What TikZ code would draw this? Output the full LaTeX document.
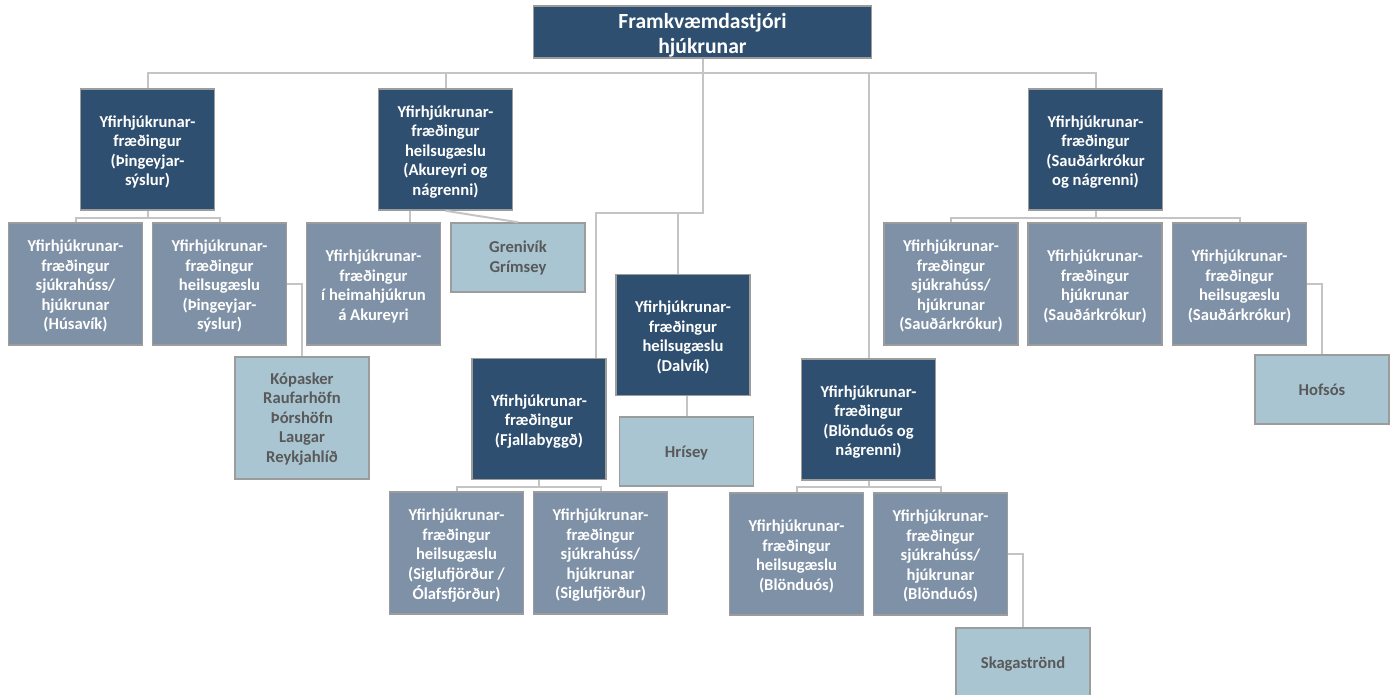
\documentclass[tikz,border=0pt]{standalone}
\usepackage{fontspec}
\setmainfont{Carlito}
\definecolor{navy}{HTML}{2F4F70}
\definecolor{slate}{HTML}{7F91A6}
\definecolor{paleblue}{HTML}{A8C5D1}
\definecolor{bordergray}{HTML}{9C9C9C}
\definecolor{linegray}{HTML}{C4C4C4}
\definecolor{textgray}{HTML}{595959}
\newcommand{\boxtxt}[2][3pt]{\raisebox{-#1}[\height][\depth]{\begin{tabular}{@{}c@{}}#2\end{tabular}}}
\tikzset{
  boxbase/.style={draw=bordergray, line width=1.5pt, inner sep=0pt, align=center,
    font=\bfseries\fontsize{16.6}{19.5}\selectfont, minimum width=134pt, minimum height=121pt},
  darkbox/.style={boxbase, fill=navy, text=white},
  medbox/.style={boxbase, fill=slate, text=white},
  lightbox/.style={boxbase, fill=paleblue, text=textgray, minimum height=69pt},
  conn/.style={draw=linegray, line width=2pt}
}
\begin{document}
\begin{tikzpicture}[x=1pt,y=-1pt]
\useasboundingbox (0,0) rectangle (1395,694);
% nodes
\node[darkbox, minimum width=338pt, minimum height=52pt, font=\bfseries\fontsize{21.6}{25}\selectfont] (top) at (702.5,32) {\boxtxt[3.5pt]{Framkvæmdastjóri\\hjúkrunar}};
\node[darkbox] (thing) at (147.5,149.5) {\boxtxt{Yfirhjúkrunar-\\fræðingur\\(Þingeyjar-\\sýslur)}};
\node[darkbox] (aku) at (445.5,149.5) {\boxtxt{Yfirhjúkrunar-\\fræðingur\\heilsugæslu\\(Akureyri og\\nágrenni)}};
\node[darkbox] (sau) at (1095.5,149.5) {\boxtxt{Yfirhjúkrunar-\\fræðingur\\(Sauðárkrókur\\og nágrenni)}};
\node[medbox, minimum height=122pt] (husa) at (75.5,284) {\boxtxt{Yfirhjúkrunar-\\fræðingur\\sjúkrahúss/\\hjúkrunar\\(Húsavík)}};
\node[medbox, minimum height=122pt] (thheil) at (219.5,284) {\boxtxt{Yfirhjúkrunar-\\fræðingur\\heilsugæslu\\(Þingeyjar-\\sýslur)}};
\node[medbox, minimum height=122pt] (heima) at (373.5,284) {\boxtxt{Yfirhjúkrunar-\\fræðingur\\í heimahjúkrun\\á Akureyri}};
\node[lightbox] (gren) at (518,257.5) {\boxtxt[1pt]{Grenivík\\Grímsey}};
\node[lightbox, minimum height=122pt] (kopa) at (302,418) {\boxtxt[1.5pt]{Kópasker\\Raufarhöfn\\Þórshöfn\\Laugar\\Reykjahlíð}};
\node[darkbox] (fjal) at (539,419) {\boxtxt{Yfirhjúkrunar-\\fræðingur\\(Fjallabyggð)}};
\node[darkbox] (dalv) at (683,335) {\boxtxt{Yfirhjúkrunar-\\fræðingur\\heilsugæslu\\(Dalvík)}};
\node[lightbox] (hris) at (686.5,451.5) {\boxtxt[2pt]{Hrísey}};
\node[medbox, minimum height=122pt] (sig1) at (456.5,553) {\boxtxt{Yfirhjúkrunar-\\fræðingur\\heilsugæslu\\(Siglufjörður /\\Ólafsfjörður)}};
\node[medbox, minimum height=122pt] (sig2) at (600.5,553) {\boxtxt{Yfirhjúkrunar-\\fræðingur\\sjúkrahúss/\\hjúkrunar\\(Siglufjörður)}};
\node[darkbox] (blon) at (868.5,419.5) {\boxtxt{Yfirhjúkrunar-\\fræðingur\\(Blönduós og\\nágrenni)}};
\node[medbox, minimum height=122pt] (bl1) at (796.5,554) {\boxtxt{Yfirhjúkrunar-\\fræðingur\\heilsugæslu\\(Blönduós)}};
\node[medbox, minimum height=122pt] (bl2) at (940.5,554) {\boxtxt{Yfirhjúkrunar-\\fræðingur\\sjúkrahúss/\\hjúkrunar\\(Blönduós)}};
\node[lightbox, minimum height=70pt] (skag) at (1023,663) {\boxtxt[2pt]{Skagaströnd}};
\node[medbox, minimum height=122pt] (s1) at (951,284) {\boxtxt{Yfirhjúkrunar-\\fræðingur\\sjúkrahúss/\\hjúkrunar\\(Sauðárkrókur)}};
\node[medbox, minimum height=122pt] (s2) at (1095,284) {\boxtxt{Yfirhjúkrunar-\\fræðingur\\hjúkrunar\\(Sauðárkrókur)}};
\node[medbox, minimum height=122pt] (s3) at (1239.5,284) {\boxtxt{Yfirhjúkrunar-\\fræðingur\\heilsugæslu\\(Sauðárkrókur)}};
\node[lightbox] (hofs) at (1322,389.5) {\boxtxt[2pt]{Hofsós}};
% connectors
\coordinate (bus1) at (702.5,73);
\coordinate (j1) at (702.5,212.5);
\draw[conn] (thing.north) |- (bus1) -| (sau.north);
\draw[conn] (aku.north) -- (aku.north |- bus1);
\draw[conn] (blon.north) -- (blon.north |- bus1);
\draw[conn] (top.south) -- (j1) -| ([xshift=57pt]fjal.north);
\draw[conn] ([xshift=-5pt]dalv.north) -- ([xshift=-5pt]dalv.north |- j1);
\draw[conn] (thing.south) -- ++(0,7) -| (husa.north);
\draw[conn] (thing.south) -- ++(0,7) -| (thheil.north);
\draw[conn] ([xshift=-35.5pt]aku.south) -- ([xshift=36.5pt]heima.north);
\draw[conn] (aku.south) -- (gren.north);
\draw[conn] (thheil.east) -| (kopa.north);
\draw[conn] (hris.north) -- (hris.north |- dalv.south);
\draw[conn] (fjal.south) -- ++(0,7) -| (sig1.north);
\draw[conn] (fjal.south) -- ++(0,7) -| (sig2.north);
\draw[conn] (blon.south) -- ++(0,6.5) -| (bl1.north);
\draw[conn] (blon.south) -- ++(0,6.5) -| (bl2.north);
\draw[conn] (bl2.east) -| (skag.north);
\draw[conn] (sau.south) -- ++(0,7) -| (s1.north);
\draw[conn] (sau.south) -- ++(0,7) -| (s3.north);
\draw[conn] (s3.east) -| (hofs.north);
\end{tikzpicture}
\end{document}
